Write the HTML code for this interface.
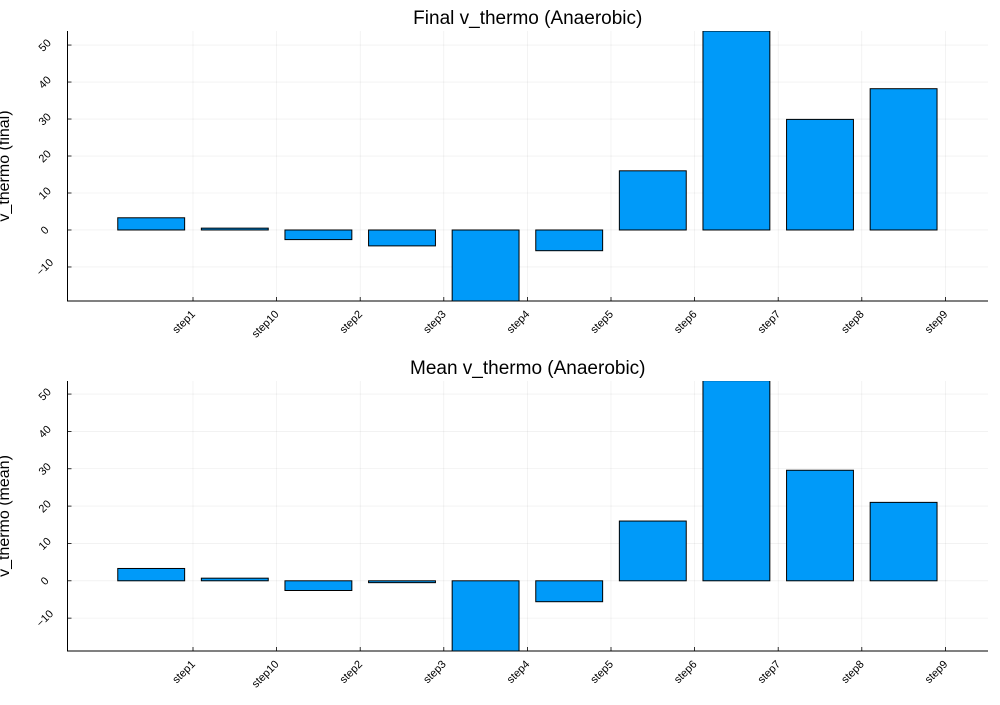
<!DOCTYPE html>
<html><head><meta charset="utf-8"><style>
body{margin:0;background:#fff;font-family:"Liberation Sans","DejaVu Sans",sans-serif}
</style></head><body>
<svg id="chart" width="1000" height="700" xmlns="http://www.w3.org/2000/svg"></svg>
<script>
const categories=["step1","step10","step2","step3","step4","step5","step6","step7","step8","step9"];
const finalValues=[3.3,0.5,-2.6,-4.3,-25,-5.6,16,53.8,29.9,38.2];
const meanValues=[3.3,0.7,-2.6,-0.5,-25,-5.6,16,53.6,29.6,21];
const yTicks=[-10,0,10,20,30,40,50];
const yTickLabels=["−10","0","10","20","30","40","50"];
const NS="http://www.w3.org/2000/svg";
const svg=document.getElementById('chart');
function mk(tag,attrs,parent){const e=document.createElementNS(NS,tag);for(const k in attrs)e.setAttribute(k,attrs[k]);(parent||svg).appendChild(e);return e;}
const panels=[
 {title:"Final v_thermo (Anaerobic)",ylabel:"v_thermo (final)",vals:finalValues,top:31,bot:301,ymin:-19.2,ymax:53.8,name:"final"},
 {title:"Mean v_thermo (Anaerobic)",ylabel:"v_thermo (mean)",vals:meanValues,top:381,bot:651,ymin:-18.8,ymax:53.5,name:"mean"}
];
const L=67.5,R=988,step=83.6,firstTick=193;
const xTick=i=>firstTick+step*i;
panels.forEach(p=>{
 const g=mk('g',{});
 
 
 const y=v=>p.bot-(v-p.ymin)/(p.ymax-p.ymin)*(p.bot-p.top);
 const clip=mk('clipPath',{id:'clip-'+p.name},g);
 mk('rect',{x:L,y:p.top,width:R-L,height:p.bot-p.top},clip);
 yTicks.forEach((t,i)=>{
  const gl=mk('line',{x1:L,x2:R,y1:y(t),y2:y(t),stroke:'#000','stroke-opacity':0.08,'stroke-width':0.6},g);
  
  
  mk('line',{x1:L,x2:L+4,y1:y(t),y2:y(t),stroke:'#000','stroke-width':0.8},g);
  const tx=mk('text',{x:L-23,y:y(t)+4,'font-size':11,'text-anchor':'middle',transform:`rotate(-45 ${L-23} ${y(t)})`,fill:'#000'},g);
  
  
  tx.textContent=yTickLabels[i];
 });
 categories.forEach((c,i)=>{
  const gx=xTick(i);
  const gl=mk('line',{x1:gx,x2:gx,y1:p.top,y2:p.bot,stroke:'#000','stroke-opacity':0.08,'stroke-width':0.6},g);
  
  
  mk('line',{x1:gx,x2:gx,y1:p.bot,y2:p.bot-4,stroke:'#000','stroke-width':0.8},g);
  const tx=mk('text',{x:gx,y:p.bot+15,'font-size':11,'text-anchor':'end',transform:`rotate(-45 ${gx} ${p.bot+11})`,fill:'#000'},g);
  
  
  tx.textContent=c;
 });
 const bg=mk('g',{'clip-path':`url(#clip-${p.name})`},g);
 p.vals.forEach((v,i)=>{
  const cx=xTick(i)-step/2, w=step*0.8;
  const y0=y(0), yv=y(v);
  const r=mk('rect',{x:cx-w/2,y:Math.min(y0,yv),width:w,height:Math.abs(yv-y0),fill:'#009af9',stroke:'#000','stroke-width':1},bg);
  
  
 });
 const ax=mk('path',{d:`M${L},${p.top} L${L},${p.bot} L${R},${p.bot}`,fill:'none',stroke:'#000','stroke-width':1},g);
 
 
 const t=mk('text',{x:(L+R)/2,y:p.top-7,'font-size':19,'text-anchor':'middle',fill:'#000'},g);
 
 
 t.textContent=p.title;
 const cy=(p.top+p.bot)/2;
 const yl=mk('text',{x:0,y:0,'font-size':16,'text-anchor':'middle',transform:`translate(9 ${cy}) rotate(-90)`,fill:'#000'},g);
 
 
 yl.textContent=p.ylabel;
});
</script>
</body></html>
